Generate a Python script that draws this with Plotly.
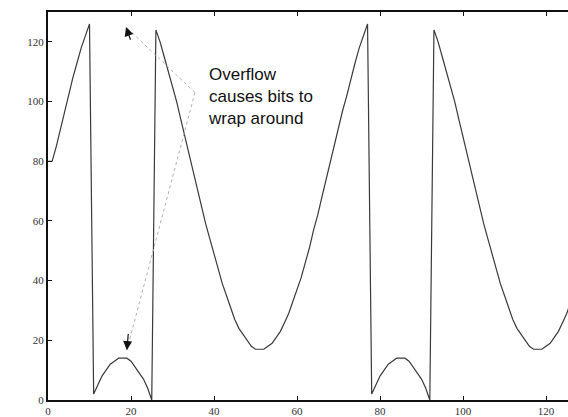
import plotly.graph_objects as go

# sample index (0..127)
sample_index = list(range(128))

# 7-bit signal value after overflow wrap-around
sample_value = [
    80, 80, 85, 91, 97, 102, 108, 113, 118, 122, 126,
    2, 5, 8, 10, 12, 13, 14, 14, 14, 13, 11, 9, 7, 4, 0,
    124, 120, 115, 110, 105, 100, 94, 88, 82, 77, 71, 65, 59, 54, 49, 44,
    39, 35, 31, 27, 24, 22, 20, 18, 17, 17, 17, 18, 19, 21, 23, 26, 29,
    33, 37, 41, 46, 51, 57, 62, 68, 74, 80, 85, 91, 97, 102, 108, 113,
    118, 122, 126,
    2, 5, 8, 10, 12, 13, 14, 14, 14, 13, 11, 9, 7, 4, 0,
    124, 120, 115, 110, 105, 100, 94, 88, 82, 77, 71, 65, 59, 54, 49, 44,
    39, 35, 31, 27, 24, 22, 20, 18, 17, 17, 17, 18, 19, 21, 23, 26, 29,
    33, 37,
]

x_ticks = [0, 20, 40, 60, 80, 100, 120]
y_ticks = [0, 20, 40, 60, 80, 100, 120]

annotation_text = "Overflow<br>causes bits to<br>wrap around"
arrow_tail = (35.4, 103.0)
arrow_heads = [(18.8, 125.0), (19.0, 16.7)]

fig = go.Figure()
fig.add_trace(go.Scatter(
    x=sample_index, y=sample_value, mode="lines",
    line=dict(color="#3a3a3a", width=1.2),
    showlegend=False, hoverinfo="skip",
))

# dotted leader lines
for hx, hy in arrow_heads:
    fig.add_shape(type="line", xref="x", yref="y",
                  x0=arrow_tail[0], y0=arrow_tail[1], x1=hx, y1=hy,
                  line=dict(color="#b0b0b0", width=1, dash="dot"))
    # arrowhead at the tip
    dx = arrow_tail[0] - hx
    dy = arrow_tail[1] - hy
    norm = (dx ** 2 + dy ** 2) ** 0.5
    fig.add_annotation(x=hx, y=hy, ax=hx + dx / norm * 2.0, ay=hy + dy / norm * 6.0,
                       xref="x", yref="y", axref="x", ayref="y",
                       text="", showarrow=True, arrowhead=2, arrowsize=1.5,
                       arrowwidth=1.2, arrowcolor="#111111")

fig.add_annotation(x=38.0, y=101.7, xref="x", yref="y", text=annotation_text,
                   showarrow=False, xanchor="left", yanchor="middle", align="left",
                   font=dict(family="Liberation Sans, Arial", size=17, color="#111111"))

fig.update_xaxes(range=[0, 125.3], tickvals=x_ticks, ticks="inside", ticklen=4,
                 tickcolor="#111", showline=True, linecolor="#111", linewidth=2,
                 mirror="ticks", showgrid=False, zeroline=False,
                 tickfont=dict(family="Liberation Serif", size=11, color="#333"))
fig.update_yaxes(range=[0, 130], tickvals=y_ticks, ticks="inside", ticklen=4,
                 tickcolor="#111", showline=True, linecolor="#111", linewidth=2,
                 mirror=False, showgrid=False, zeroline=False,
                 tickfont=dict(family="Liberation Serif", size=11, color="#333"))

fig.update_layout(width=568, height=417, margin=dict(l=48, r=0, t=12, b=15),
                  paper_bgcolor="white", plot_bgcolor="white")

fig.write_html("out.html")
